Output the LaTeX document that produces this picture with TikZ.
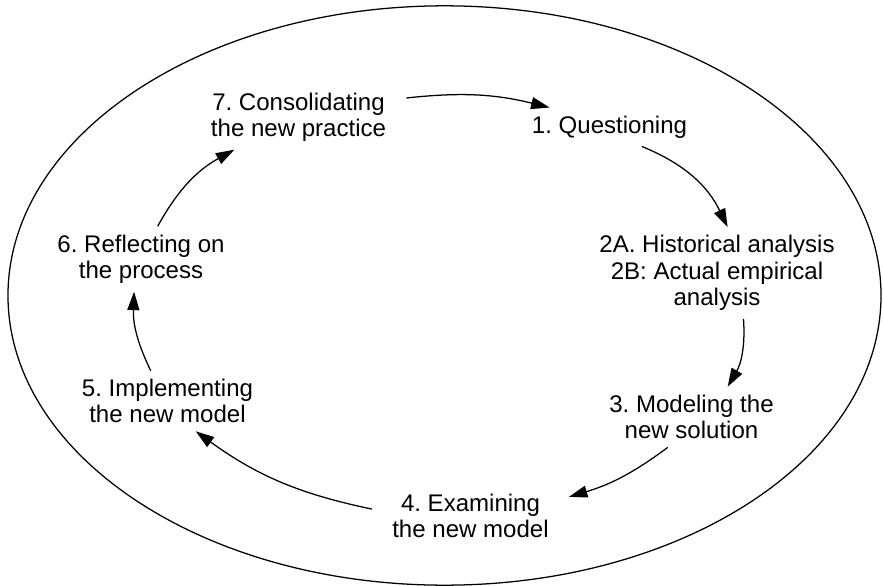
\documentclass[tikz,border=0pt]{standalone}
\usepackage{fontspec}
\setmainfont{Liberation Sans}
\usetikzlibrary{arrows.meta}
\frenchspacing

\begin{document}
\begin{tikzpicture}[x=0.025cm,y=-0.025cm,
  phase/.style={align=center,inner xsep=0.5cm,inner ysep=0.2cm,
    font=\fontsize{17.1}{18.8}\selectfont},
  flow/.style={line width=0.9pt,-{Triangle[length=0.46cm,width=0.3cm]}}]
\useasboundingbox (0,0) rectangle (883,586);
\draw [line width=0.9pt] (444.5,295.5) ellipse [x radius=10.91cm, y radius=7.24cm];

\node (phase1) [phase] at (609.5,127) {1. Questioning};
\node (phase2) [phase] at (717,273) {2A. Historical analysis\\2B: Actual empirical\\analysis};
\node (phase3) [phase] at (691.5,417) {3. Modeling the\\new solution};
\node (phase4) [phase] at (470.5,516) {4. Examining\\the new model};
\node (phase5) [phase] at (167.5,401) {5. Implementing\\the new model};
\node (phase6) [phase] at (141,259) {6. Reflecting on\\the process};
\node (phase7) [phase] at (298.5,117) {7. Consolidating\\the new practice};

\draw [flow] (phase7.10.9) to[bend left=10] (phase1.162.5);
\draw [flow] (phase1.329.6) to[bend left=21] (phase2.77.9);
\draw [flow] (phase2.300.6) to[bend left=17] (phase3.40.2);
\draw [flow] (phase3.232.4) to[bend left=10] (phase4.11.1);
\draw [flow] (phase4.176.3) to[bend left=12] (phase5.313.8);
\draw [flow] (phase5.119.7) to[bend left=14] (phase6.258.2);
\draw [flow] (phase6.63.8) to[bend left=16] (phase7.207.4);

\end{tikzpicture}
\end{document}
